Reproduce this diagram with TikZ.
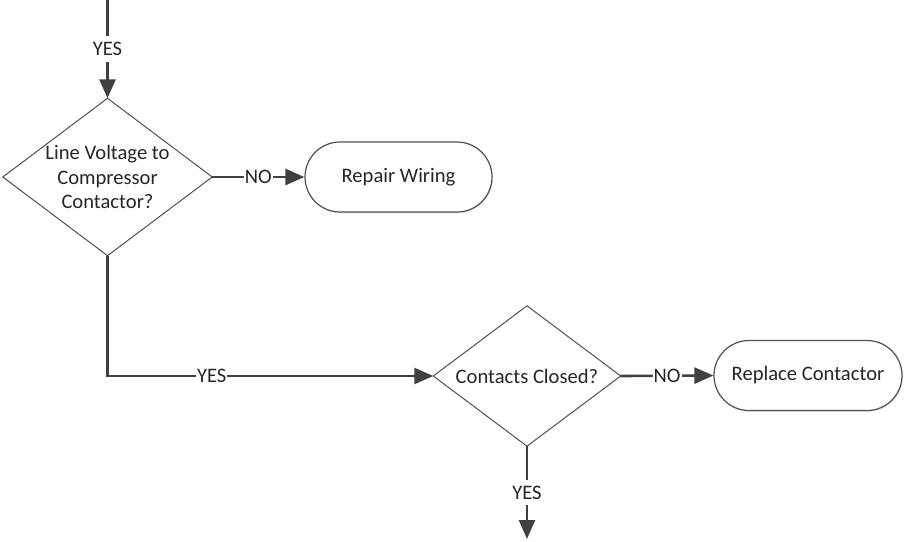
\documentclass[tikz,border=0pt]{standalone}
\usepackage{fontspec}
\setmainfont{Carlito}
\usetikzlibrary{arrows.meta,shadows}
\definecolor{linegray}{HTML}{404040}
\definecolor{textgray}{HTML}{262626}
\definecolor{edgegray}{HTML}{505050}

\begin{document}
\begin{tikzpicture}[x=1pt,y=-1pt,
  every node/.style={font=\fontsize{20.6}{24.5}\selectfont, text=textgray},
  decision/.style={rectangle, inner sep=0pt, align=center},
  terminal/.style={rectangle, rounded corners=35pt, draw=edgegray, line width=1.2pt,
    fill=white, minimum height=70pt, inner sep=0pt,
    drop shadow={shadow xshift=1pt, shadow yshift=-1.5pt, fill=black!10, opacity=1}},
  conn/.style={draw=linegray, line width=2.6pt,
    -{Triangle[length=19pt, width=16pt]}},
  lbl/.style={fill=white, inner xsep=1pt, inner ysep=6pt},
  diamondline/.style={draw=linegray, line width=0.9pt, line join=miter}
]
\useasboundingbox (0,0) rectangle (904,541);

% decisions (outline drawn from the node anchors)
\node[decision, minimum width=209pt, minimum height=157pt] (d1) at (107.5,177)
  {Line Voltage to\\Compressor\\Contactor?};
\draw[diamondline] (d1.north) -- (d1.east) -- (d1.south) -- (d1.west) -- cycle;

\node[decision, minimum width=187pt, minimum height=140pt] (d2) at (527,376)
  {Contacts Closed?};
\draw[diamondline] (d2.north) -- (d2.east) -- (d2.south) -- (d2.west) -- cycle;

% terminals
\node[terminal, minimum width=187pt] (r1) at (398.5,177) {Repair Wiring};
\node[terminal, minimum width=188pt] (r2) at (808,375.5) {Replace Contactor};

% free ends
\coordinate (in1) at (107.5,0);
\coordinate (out2) at (527,539);

% connectors
\draw[conn] (in1) -- node[lbl]{YES} (d1.north);
\draw[conn] (d1.east) -- node[lbl]{NO} (r1.west);
\draw[conn] (d1.south) |- node[lbl, pos=0.66]{YES} (d2.west);
\draw[conn] (d2.east) -- node[lbl]{NO} (r2.west);
\draw[conn] (d2.south) -- node[lbl]{YES} (out2);
\end{tikzpicture}
\end{document}
